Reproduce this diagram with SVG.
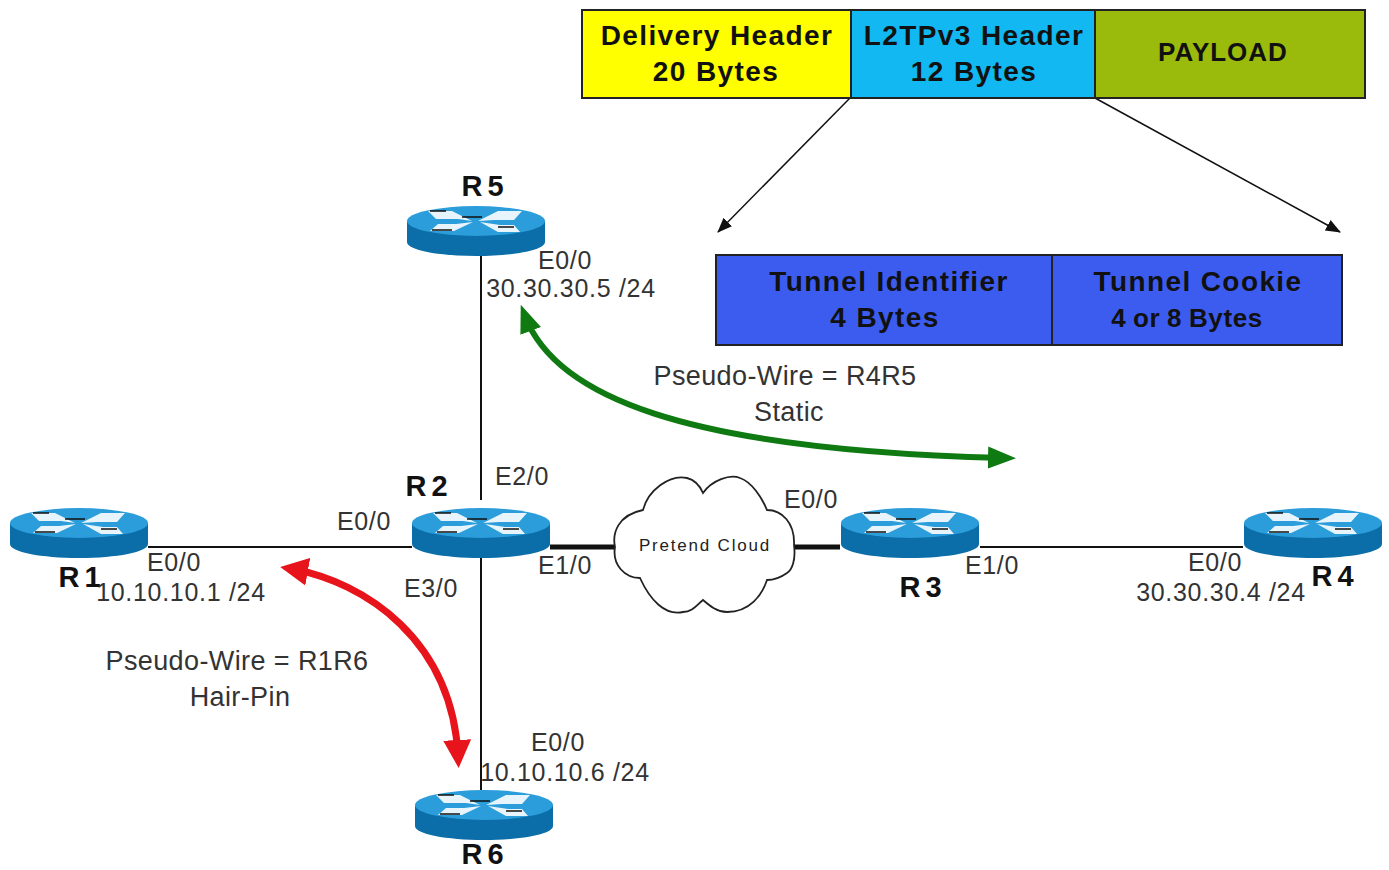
<svg xmlns="http://www.w3.org/2000/svg" width="1389" height="870" viewBox="0 0 1389 870">
<style>
text{font-family:"Liberation Sans",Arial,sans-serif;fill:#222;font-size:24px;text-anchor:middle}
.b{font-weight:bold;fill:#111;font-size:28px;letter-spacing:1.4px}
.r{font-weight:bold;fill:#111;font-size:29px;letter-spacing:5px}
.l{font-size:25px;fill:#333;letter-spacing:.7px}
.p{font-size:27px;fill:#333;letter-spacing:.4px}
.box{stroke:#222;stroke-width:2}
.line{stroke:#111;stroke-width:2;fill:none}
.thick{stroke:#111;stroke-width:5;fill:none}
.thin{stroke:#111;stroke-width:1.5;fill:none}
</style>
<defs>
<g id="router">
<path d="M-69,-9V12C-69,20 -38,26 0,26S69,20 69,12V-9Z" fill="#0c6ea8"/>
<ellipse cx="0" cy="-9" rx="69" ry="15" fill="#2b9ddb"/>
<path d="M-48,-19H-24L-4,-9L-18,-11H-40ZM46,-19H22L2,-9L18,-10H38ZM-46,1H-22L-3,-8L-20,-6H-38ZM44,2H22L4,-8L24,-5H38Z" fill="#e8f4fb"/>
<path d="M-46,-19H-30M-14,-13H6M22,-3H38M-44,0H-24" stroke="#111" stroke-width="1.6" fill="none"/>
</g>
<marker id="ag" markerUnits="userSpaceOnUse" markerWidth="30" markerHeight="26" refX="16" refY="13" orient="auto-start-reverse"><path d="M0,2L28,13L0,24Z" fill="#0f7a12"/></marker>
<marker id="ar" markerUnits="userSpaceOnUse" markerWidth="30" markerHeight="30" refX="16" refY="15" orient="auto-start-reverse"><path d="M0,1L28,15L0,29Z" fill="#e8141c"/></marker>
<marker id="ak" markerUnits="userSpaceOnUse" markerWidth="16" markerHeight="14" refX="14" refY="7" orient="auto"><path d="M0,1L15,7L0,13Z" fill="#111"/></marker>
</defs>
<rect width="1389" height="870" fill="#fff"/>
<g id="connectors">
<path class="line" d="M148,547H412"/>
<path class="line" d="M481,256V500"/>
<path class="line" d="M481,558V790"/>
<path class="thick" d="M550,547H616"/>
<path class="thick" d="M793,547H840"/>
<path class="line" d="M980,547H1243"/>
<path class="thin" d="M850,98L718,232" marker-end="url(#ak)"/>
<path class="thin" d="M1095,98L1340,232" marker-end="url(#ak)"/>
<path d="M525,316C555,395 680,450 1004,458" fill="none" stroke="#0f7a12" stroke-width="6" marker-start="url(#ag)" marker-end="url(#ag)"/>
<path d="M292,569C365,582 452,640 458,756" fill="none" stroke="#e8141c" stroke-width="7" marker-start="url(#ar)" marker-end="url(#ar)"/>
</g>
<g id="delivery-header"><rect class="box" x="582" y="10" width="269" height="88" fill="#ffff00"/><text class="b" x="717" y="45">Delivery Header</text><text class="b" x="716" y="81">20 Bytes</text></g>
<g id="l2tp-header"><rect class="box" x="851" y="10" width="244" height="88" fill="#12b8f2"/><text class="b" x="974" y="45">L2TPv3 Header</text><text class="b" x="974" y="81">12 Bytes</text></g>
<g id="payload"><rect class="box" x="1095" y="10" width="270" height="88" fill="#9bbb0c"/><text class="b" x="1223" y="61" style="font-size:26px;letter-spacing:1px">PAYLOAD</text></g>
<g id="tunnel-id"><rect class="box" x="716" y="255" width="336" height="90" fill="#3c5cf0"/><text class="b" x="889" y="291">Tunnel Identifier</text><text class="b" x="885" y="327">4 Bytes</text></g>
<g id="tunnel-cookie"><rect class="box" x="1052" y="255" width="290" height="90" fill="#3c5cf0"/><text class="b" x="1198" y="291">Tunnel Cookie</text><text class="b" x="1187" y="327" style="font-size:26px;letter-spacing:.6px;word-spacing:-1px">4 or 8 Bytes</text></g>
<g id="cloud"><path d="M615,547C612,533 618,515 643,510C648,490 670,474 687,478C695,480 700,486 703,493C712,480 730,474 740,478C752,482 762,498 767,510C782,510 795,523 794,545C796,560 792,570 787,573C780,578 772,580 767,580C762,595 750,612 727,612C717,612 710,606 703,600C696,606 692,612 683,612C665,616 650,600 640,578C625,578 612,565 615,547Z" fill="#fff" stroke="#222" stroke-width="1.8"/><text x="705" y="551" style="font-size:17px;letter-spacing:1.8px">Pretend Cloud</text></g>
<g id="R1"><use href="#router" x="79" y="532"/><text class="r" x="82" y="587">R1</text></g>
<g id="R2"><use href="#router" x="481" y="532"/><text class="r" x="429" y="496">R2</text></g>
<g id="R3"><use href="#router" x="910" y="532"/><text class="r" x="923" y="597">R3</text></g>
<g id="R4"><use href="#router" x="1313" y="532"/><text class="r" x="1335" y="586">R4</text></g>
<g id="R5"><use href="#router" x="476" y="230"/><text class="r" x="485" y="196">R5</text></g>
<g id="R6"><use href="#router" x="484" y="814"/><text class="r" x="485" y="864">R6</text></g>
<g id="labels">
<text class="l" x="565" y="269">E0/0</text><text class="l" x="571" y="297">30.30.30.5 /24</text>
<text class="l" x="364" y="530">E0/0</text><text class="l" x="522" y="485">E2/0</text><text class="l" x="565" y="574">E1/0</text><text class="l" x="431" y="597">E3/0</text>
<text class="l" x="174" y="571">E0/0</text><text class="l" x="181" y="601">10.10.10.1 /24</text>
<text class="l" x="811" y="508">E0/0</text><text class="l" x="992" y="574">E1/0</text>
<text class="l" x="1215" y="571">E0/0</text><text class="l" x="1221" y="601">30.30.30.4 /24</text>
<text class="l" x="558" y="751">E0/0</text><text class="l" x="565" y="781">10.10.10.6 /24</text>
<text class="p" x="785" y="385">Pseudo-Wire = R4R5</text><text class="p" x="789" y="421">Static</text>
<text class="p" x="237" y="670">Pseudo-Wire = R1R6</text><text class="p" x="240" y="706">Hair-Pin</text>
</g>
</svg>
